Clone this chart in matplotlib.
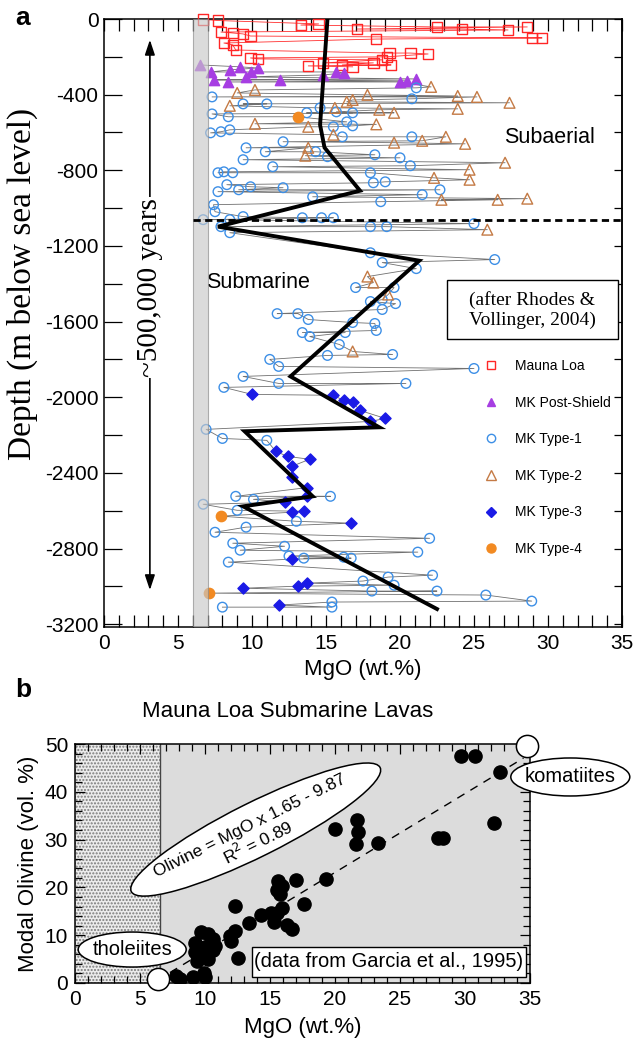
import matplotlib
matplotlib.use("Agg")
import matplotlib.pyplot as plt
from matplotlib.patches import Rectangle, Ellipse
from matplotlib.transforms import ScaledTranslation
from matplotlib.lines import Line2D
from matplotlib.ticker import MultipleLocator

SANS = ["Liberation Sans", "DejaVu Sans"]
SERIF = ["Liberation Serif", "DejaVu Serif"]
plt.rcParams["font.family"] = SANS
plt.rcParams["axes.unicode_minus"] = False

# ---------------- panel a: MgO (wt.%) vs depth (m) ----------------
ml_mgo = [6.7, 7.7, 13.3, 14.5, 17.1, 22.5, 24.2, 27.3, 28.6, 28.9, 29.6, 7.9, 8.7, 9.4, 9.9, 18.4,
          8.1, 8.7, 8.9, 19.3, 19.1, 20.7, 21.9, 9.9, 10.4, 13.8, 14.8, 16.1, 16.8, 18.2, 18.8, 19.4]
ml_depth = [-2, -8, -32, -26, -53, -42, -53, -58, -42, -100, -100, -69, -74, -79, -90, -106,
            -127, -137, -164, -180, -200, -180, -185, -206, -211, -248, -232, -243, -253, -232, -216, -243]

ps_mgo = [6.5, 7.2, 8.5, 9.2, 9.9, 10.4, 7.4, 8.4, 9.6, 11.9, 15.7, 16.2, 14.8, 20.0, 20.5, 21.1]
ps_depth = [-243, -280, -269, -253, -280, -259, -322, -333, -306, -322, -280, -285, -296, -333, -327, -317]

t1_mgo = [21.1, 7.3, 20.8, 9.4, 11.0, 7.3, 8.4, 14.6, 15.7, 16.8, 13.7, 16.4,
          7.2, 7.9, 8.5, 15.5, 16.8, 16.1, 20.8, 12.1, 9.6, 10.9, 14.3, 15.1, 18.3, 20.0, 9.4, 20.7,
          11.4, 7.7, 8.1, 8.7, 18.0, 18.2, 19.0, 8.3, 9.9, 12.1, 9.1, 7.7, 22.7, 14.1, 21.5, 18.7,
          7.4, 7.5, 9.4, 6.7, 8.5, 13.4, 14.7, 15.5, 25.0, 7.9, 8.5, 18.0, 19.1,
          18.0, 26.4, 18.8, 21.1, 17.0, 19.6, 18.0, 18.8, 19.7, 18.8, 11.7, 13.1, 13.8, 16.8, 18.3,
          18.4, 13.4, 13.9, 16.3, 15.9, 15.1, 19.5, 11.2, 25.0,
          11.8, 9.4, 11.8, 20.4, 8.1, 6.9, 8.0, 11.0,
          8.9, 10.1, 15.3, 6.7, 9.0, 13.0, 9.6, 7.5, 22.0, 8.7, 12.2, 9.2, 21.2, 12.5, 13.5, 16.2,
          16.7, 8.4, 22.2, 17.5, 19.2, 19.6, 18.1, 22.5, 25.8, 28.9, 15.4, 15.4, 8.0]
t1_depth = [-364, -412, -422, -449, -449, -502, -517, -470, -491, -496, -496, -544,
            -602, -596, -586, -570, -565, -623, -623, -649, -681, -702, -702, -728, -718, -734, -744, -776,
            -781, -813, -808, -813, -813, -866, -861, -876, -887, -892, -903, -913, -903, -940, -929, -966,
            -982, -1019, -1045, -1061, -1061, -1051, -1051, -1051, -1082, -1098, -1130, -1098, -1098,
            -1236, -1272, -1288, -1320, -1420, -1420, -1494, -1484, -1505, -1536, -1558, -1558, -1589, -1605, -1610,
            -1647, -1658, -1679, -1658, -1721, -1779, -1774, -1800, -1848,
            -1837, -1890, -1927, -1927, -1948, -2170, -2218, -2228,
            -2524, -2540, -2524, -2566, -2598, -2656, -2687, -2714, -2746, -2772, -2788, -2809, -2819, -2840, -2851, -2846,
            -2851, -2872, -2941, -2972, -2951, -2994, -3025, -3025, -3046, -3078, -3083, -3110, -3110]

t2_mgo = [22.1, 10.2, 9.0, 23.9, 25.2, 27.4, 17.8, 16.4, 16.8, 8.5, 18.6, 19.6, 23.9, 15.6, 10.2, 18.4,
          13.8, 15.5, 21.5, 23.1, 19.6, 24.4, 13.8, 13.6, 27.1, 24.7, 24.7, 22.3, 22.8, 26.6, 28.6, 25.9,
          17.8, 18.2, 19.2, 16.8]
t2_depth = [-359, -375, -391, -407, -412, -443, -401, -438, -428, -459, -480, -496, -475, -470, -554, -557,
            -570, -612, -644, -623, -654, -660, -681, -723, -760, -797, -850, -840, -956, -956, -950, -1114,
            -1362, -1394, -1457, -1758]

t3_mgo = [10.0, 15.5, 16.2, 16.8, 17.3, 19.0, 18.0, 11.6, 12.4, 13.9, 12.7, 12.7, 13.7, 13.7, 12.2,
          12.7, 13.5, 16.7, 12.7, 9.4, 13.1, 13.7, 11.8]
t3_depth = [-1985, -1990, -2017, -2027, -2070, -2112, -2128, -2286, -2313, -2328, -2365, -2423, -2478, -2524, -2555,
            -2608, -2603, -2666, -2856, -3010, -2999, -2983, -3099]

t4_mgo = [13.1, 7.9, 7.1]
t4_depth = [-517, -2629, -3036]

# running trend through the section
avg_mgo = [15.1, 14.6, 14.9, 17.3, 7.7, 21.3, 12.6, 18.6, 9.5, 14.1, 9.4, 22.5]
avg_depth = [0, -560, -680, -908, -1098, -1278, -1890, -2159, -2180, -2524, -2577, -3120]

boundary_depth = -1065
legend_labels = ["Mauna Loa", "MK Post-Shield", "MK Type-1", "MK Type-2", "MK Type-3", "MK Type-4"]

# ---------------- panel b: modal olivine vs MgO ----------------
ol_mgo = [29.7, 30.8, 32.7, 32.2, 27.9, 28.3, 23.3, 21.7, 21.8, 21.6, 20.0,
          19.3, 17.0, 15.6, 15.9, 15.5, 15.8, 17.6, 15.9, 15.5, 12.3, 14.3, 15.1, 15.3, 16.3, 16.7, 13.4,
          12.3, 11.9, 12.0, 12.5,
          9.7, 10.2, 10.6, 9.2, 10.0, 10.8, 9.2, 10.2, 10.6, 9.4, 10.2, 9.9, 9.1, 10.0, 8.1, 7.8]
ol_vol = [47.5, 47.5, 44.2, 33.5, 30.4, 30.4, 29.3, 34.0, 31.5, 29.0, 32.3,
          21.8, 21.5, 21.4, 20.2, 19.5, 18.6, 16.5, 15.6, 14.6, 16.2, 14.3, 14.7, 12.8, 12.2, 11.2, 12.5,
          10.9, 9.8, 8.8, 5.3,
          10.6, 10.3, 9.3, 8.3, 7.6, 7.8, 6.4, 6.1, 6.9, 4.5, 5.0, 2.0, 1.2, 1.2, 0.9, 1.5]
fit_slope, fit_intercept, fit_r2 = 1.65, -9.87, 0.89
fit_range = [6.3, 34.5]
endmember_mgo = [6.4, 34.8]
endmember_ol = [0.8, 49.5]
endmember_names = ["tholeiites", "komatiites"]
tholeiite_limit = 6.5

# ---------------- figure ----------------
W, H = 634, 1041
fig = plt.figure(figsize=(W / 100, H / 100), dpi=100)


def axes_px(left, top, right, bottom):
    return fig.add_axes([left / W, 1 - bottom / H, (right - left) / W, (bottom - top) / H])


axa = axes_px(104, 19, 622, 627)
axb = axes_px(75, 744, 530, 983)

# ===== panel a =====
axa.set_xlim(0, 35)
axa.set_ylim(-3215, 0)

mk_mgo = ps_mgo + t1_mgo + t2_mgo + t3_mgo + t4_mgo
mk_depth = ps_depth + t1_depth + t2_depth + t3_depth + t4_depth
order = sorted(range(len(mk_depth)), key=lambda i: -mk_depth[i])
axa.plot([mk_mgo[i] for i in order], [mk_depth[i] for i in order],
         color="#707070", lw=0.6, zorder=2)
order_ml = sorted(range(len(ml_depth)), key=lambda i: -ml_depth[i])
axa.plot([ml_mgo[i] for i in order_ml], [ml_depth[i] for i in order_ml],
         color="#ff3030", lw=0.6, zorder=2)

c_ml, c_ps, c_t1, c_t2, c_t3, c_t4 = "#ff2626", "#a63ee2", "#3d8fe6", "#c47a45", "#1a1ae6", "#f28a22"
axa.scatter(ml_mgo, ml_depth, marker="s", s=55, facecolors="none", edgecolors=c_ml, linewidths=1.0,
            zorder=4, clip_on=False)
axa.scatter(ps_mgo, ps_depth, marker="^", s=55, color=c_ps, zorder=4)
axa.scatter(t1_mgo, t1_depth, marker="o", s=48, facecolors="none", edgecolors=c_t1, linewidths=1.0, zorder=4)
axa.scatter(t2_mgo, t2_depth, marker="^", s=60, facecolors="none", edgecolors=c_t2, linewidths=1.0, zorder=4)
axa.scatter(t3_mgo, t3_depth, marker="D", s=32, color=c_t3, zorder=4)
axa.scatter(t4_mgo, t4_depth, marker="o", s=55, color=c_t4, zorder=4)

axa.axvspan(6, 7, facecolor="#c8c8c8", edgecolor="#888888", lw=0.8, alpha=0.65, zorder=5)
axa.plot(avg_mgo, avg_depth, color="black", lw=2.8, zorder=6, solid_joinstyle="miter")
axa.plot([6, 35], [boundary_depth, boundary_depth], color="black", lw=2.0, dashes=(2.6, 1.6), zorder=6)

axa.annotate("", xy=(3.1, -3020), xytext=(3.1, -110),
             arrowprops=dict(arrowstyle="<|-|>,head_length=0.9,head_width=0.3", color="black",
                             lw=1.2, shrinkA=0, shrinkB=0))
axa.text(3.1, -1420, "~500,000 years", rotation=90, ha="center", va="center", family=SERIF,
         fontsize=21, bbox=dict(fc="white", ec="none", pad=1))

axa.text(30.1, -624, "Subaerial", ha="center", va="center", fontsize=15.5)
axa.text(10.4, -1391, "Submarine", ha="center", va="center", fontsize=15.5)

axa.add_patch(Rectangle((23.17, -1693), 11.56, 312, fc="white", ec="black", lw=1.0, zorder=7))
axa.text(28.95, -1537, "(after Rhodes &\nVollinger, 2004)", ha="center", va="center",
         family=SERIF, fontsize=14, linespacing=1.2, zorder=8)

handles = [
    Line2D([], [], ls="none", marker="s", ms=6, mfc="none", mec=c_ml, mew=1.0),
    Line2D([], [], ls="none", marker="^", ms=6, color=c_ps),
    Line2D([], [], ls="none", marker="o", ms=6, mfc="none", mec=c_t1, mew=1.0),
    Line2D([], [], ls="none", marker="^", ms=6.5, mfc="none", mec=c_t2, mew=1.0),
    Line2D([], [], ls="none", marker="D", ms=5, color=c_t3),
    Line2D([], [], ls="none", marker="o", ms=6.5, color=c_t4),
]
leg = axa.legend(handles, legend_labels, loc="upper left", bbox_to_anchor=(0.7336, 0.441),
                 frameon=False, fontsize=10, handlelength=1.0, handletextpad=1.2,
                 labelspacing=1.63, borderpad=0, borderaxespad=0)
leg.set_zorder(9)

axa.xaxis.set_major_locator(MultipleLocator(5))
axa.xaxis.set_minor_locator(MultipleLocator(1))
axa.yaxis.set_major_locator(MultipleLocator(400))
axa.yaxis.set_minor_locator(MultipleLocator(200))
axa.tick_params(axis="x", which="both", direction="in", top=True, bottom=True, length=8.5, width=0.9,
                labelsize=15, pad=5)
axa.tick_params(axis="y", which="both", direction="in", left=True, right=False, length=13, width=0.9,
                labelsize=15, pad=4)
sec = axa.secondary_yaxis("right")
sec.yaxis.set_major_locator(MultipleLocator(200))
sec.tick_params(direction="in", length=6, width=0.9, labelright=False)
for sp in axa.spines.values():
    sp.set_linewidth(1.1)
sec.spines["right"].set_linewidth(1.1)

axa.set_xlabel("MgO (wt.%)", fontsize=16, labelpad=4)
axa.set_ylabel("Depth (m below sea level)", family=SERIF, fontsize=24)
axa.yaxis.set_label_coords(-0.128, 0.565)
fig.text(15 / W, 1 - 18 / H, "a", fontsize=19, fontweight="bold", ha="left", va="center")

# ===== panel b =====
axb.set_xlim(0, 35)
axb.set_ylim(0, 50)
axb.add_patch(Rectangle((0, 0), tholeiite_limit, 50, fc="#ececec", ec="#7a7a7a", lw=0,
                        hatch=".....", zorder=0))
axb.add_patch(Rectangle((tholeiite_limit, 0), 35 - tholeiite_limit, 50, fc="#dcdcdc", lw=0, zorder=0))
axb.axvline(tholeiite_limit, color="#444444", lw=1.0, zorder=1)

axb.plot(fit_range, [fit_slope * v + fit_intercept for v in fit_range], color="black", lw=1.0,
         dashes=(6, 5), zorder=2)
axb.plot(ol_mgo, ol_vol, ls="none", marker="o", ms=9.5, color="black", zorder=3)

axb.add_patch(Rectangle((13.6, 1.3), 21.1, 6.3, fc="white", ec="black", lw=1.0, zorder=4))
axb.text(24.15, 4.45, "(data from Garcia et al., 1995)", ha="center", va="center", fontsize=14.5, zorder=5)


def ellipse_at(x, y, w_px, h_px, angle, text, fs, text_xy=None):
    trans = fig.dpi_scale_trans + ScaledTranslation(x, y, axb.transData)
    e = Ellipse((0, 0), w_px / 100, h_px / 100, angle=angle, transform=trans,
                fc="white", ec="black", lw=1.1, zorder=6, clip_on=False)
    axb.add_patch(e)
    tx, ty = text_xy if text_xy else (x, y)
    axb.text(tx, ty, text, ha="center", va="center", rotation=angle, fontsize=fs,
             rotation_mode="anchor", zorder=7, linespacing=1.05)


ellipse_at(38.1, 43.1, 119, 38, 0, endmember_names[1], 14.5)
ellipse_at(4.4, 7.0, 108, 35, 0, endmember_names[0], 14.5)
ellipse_at(13.9, 32.1, 278, 54, 26.5,
           f"Olivine = MgO x {fit_slope:.2f} - {abs(fit_intercept):.2f}\nR$^2$ = {fit_r2:.2f}", 12.5,
           text_xy=(13.8, 31.0))

axb.plot(endmember_mgo, endmember_ol, ls="none", marker="o", ms=16, mfc="white", mec="black",
         mew=1.1, zorder=8, clip_on=False)

axb.xaxis.set_major_locator(MultipleLocator(5))
axb.xaxis.set_minor_locator(MultipleLocator(1))
axb.yaxis.set_major_locator(MultipleLocator(10))
axb.yaxis.set_minor_locator(MultipleLocator(2))
axb.tick_params(which="both", direction="in", top=True, right=True, width=0.9, labelsize=15, pad=5)
axb.tick_params(which="major", length=7.5)
axb.tick_params(which="minor", length=5)
for sp in axb.spines.values():
    sp.set_linewidth(1.1)
    sp.set_zorder(5)
axb.set_xlabel("MgO (wt.%)", fontsize=16, labelpad=6)
axb.set_ylabel("Modal Olivine (vol. %)", fontsize=16, labelpad=4)
axb.text(0.468, 1.134, "Mauna Loa Submarine Lavas", transform=axb.transAxes, ha="center",
         va="center", fontsize=16)
fig.text(15 / W, 1 - 690 / H, "b", fontsize=19, fontweight="bold", ha="left", va="center")

fig.savefig("out.png", dpi=100)
